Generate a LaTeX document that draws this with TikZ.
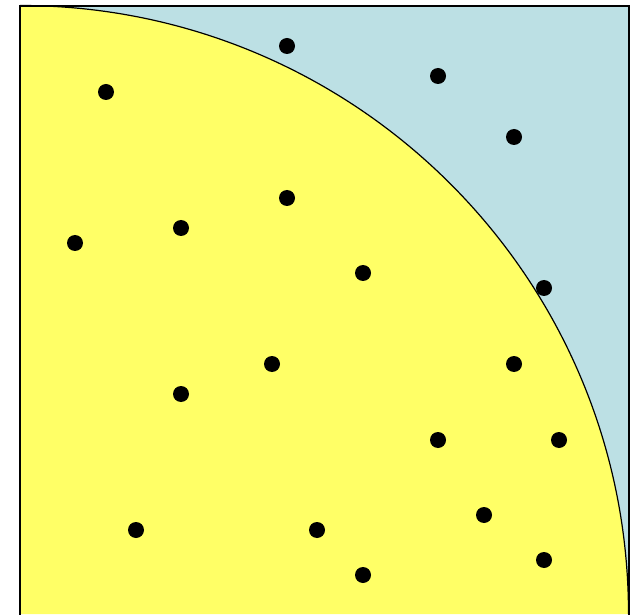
\documentclass[tikz,border=0pt]{standalone}
\definecolor{bgblue}{HTML}{BCE0E4}
\definecolor{qyellow}{HTML}{FFFF66}
\tikzset{dot/.style={fill=black,circle,inner sep=0pt,minimum size=16pt}}
\begin{document}
\begin{tikzpicture}[x=1pt,y=1pt]
\useasboundingbox (0,0) rectangle (637,614);
\fill[bgblue] (20,0) rectangle (629,608);
\fill[qyellow] (20,0) -- (20,608.5) arc[start angle=90,end angle=0,radius=608.5] -- cycle;
\draw[line width=1.2pt] (20,608.5) arc[start angle=90,end angle=0,radius=608.5];
\draw[line width=1.6pt] (20,-2) -- (20,608) -- (629,608) -- (629,-2);
\foreach \x/\y [count=\i] in {287/46,438/76,106/92,514/137,287/198,181/228,75/243,363/273,544/288,272/364,514/364,181/394,438/440,559/440,136/530,317/530,484/515,363/575,544/560}
  \node[dot] (d\i) at (\x,{614-\y}) {};
\end{tikzpicture}
\end{document}
